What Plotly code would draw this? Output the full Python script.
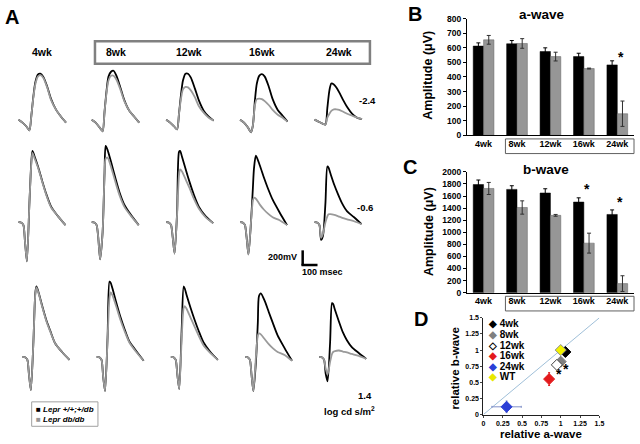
import plotly.graph_objects as go

W, H = 640, 444
FONT = "Arial, Liberation Sans, sans-serif"

# ---------------- Panel A: ERG waveforms (time in ms, amplitude in uV) ----------------
ages = ['4wk', '8wk', '12wk', '16wk', '24wk']
flash_labels = ['-2.4', '-0.6', '1.4']

t_dim = [0, 25, 50, 69, 81, 94, 106, 122, 138, 156, 181, 206, 238, 269, 300]
t_bright = [0, 19, 31, 41, 53, 69, 81, 88, 100, 125, 150, 175, 206, 250, 297]

# -2.4 log cd s/m2
wt_dim_4wk = [0, -40, -93, -147, 53, 320, 507, 613, 627, 587, 453, 280, 133, 40, -40]
db_dim_4wk = [0, -40, -93, -147, 53, 307, 480, 587, 607, 573, 440, 267, 133, 40, -40]
wt_dim_8wk = [0, -40, -107, -160, 107, 400, 587, 653, 667, 600, 440, 267, 120, 40, -40]
db_dim_8wk = [0, -40, -107, -160, 107, 373, 533, 600, 600, 547, 413, 253, 120, 40, -40]
wt_dim_12wk = [0, -40, -93, -133, 80, 347, 533, 627, 627, 573, 427, 267, 120, 40, -13]
db_dim_12wk = [0, -40, -93, -133, 80, 293, 413, 447, 440, 400, 307, 187, 93, 27, -13]
wt_dim_16wk = [0, -40, -107, -173, -80, 267, 493, 600, 620, 587, 453, 280, 133, 53, -27]
db_dim_16wk = [0, -40, -107, -173, -80, 200, 280, 287, 280, 253, 200, 133, 67, 27, -27]
wt_dim_24wk = [0, -27, -53, -67, 160, 400, 493, 480, 440, 373, 267, 173, 80, 27, 7]
db_dim_24wk = [0, -27, -53, -67, 27, 80, 120, 140, 141, 133, 107, 80, 53, 27, 7]

# -0.6 log cd s/m2
wt_mid_4wk = [0, -7, -40, -267, -533, 267, 827, 973, 907, 747, 560, 387, 213, 80, -40]
db_mid_4wk = [0, -7, -40, -267, -533, 267, 800, 947, 880, 733, 547, 373, 200, 80, -40]
wt_mid_8wk = [0, -7, -40, -200, -507, -133, 667, 1040, 987, 800, 600, 413, 240, 93, -40]
db_mid_8wk = [0, -7, -40, -200, -507, -133, 640, 867, 880, 733, 547, 373, 213, 80, -40]
wt_mid_12wk = [0, -7, -40, -200, -427, 133, 960, 973, 893, 707, 533, 373, 213, 80, -13]
db_mid_12wk = [0, -7, -40, -200, -427, 107, 640, 720, 693, 573, 453, 320, 187, 67, -13]
wt_mid_16wk = [0, -7, -40, -200, -440, 0, 467, 733, 907, 773, 613, 467, 307, 133, -40]
db_mid_16wk = [0, -7, -40, -200, -440, 0, 293, 333, 320, 240, 173, 120, 67, 27, -40]
wt_mid_24wk = [0, -7, -40, -240, -187, 267, 760, 747, 667, 507, 373, 253, 147, 67, -27]
db_mid_24wk = [0, -7, -40, -213, -160, 0, 80, 107, 110, 100, 80, 60, 40, 13, -27]

# 1.4 log cd s/m2
wt_hi_4wk = [0, -7, -40, -240, -453, 200, 867, 960, 893, 693, 507, 360, 187, 67, -40]
db_hi_4wk = [0, -7, -40, -240, -453, 200, 853, 947, 880, 680, 493, 347, 187, 67, -40]
wt_hi_8wk = [0, -7, -40, -267, -467, 267, 1027, 1013, 933, 733, 547, 387, 213, 80, -53]
db_hi_8wk = [0, -7, -40, -267, -467, 240, 800, 880, 840, 680, 507, 360, 200, 67, -53]
wt_hi_12wk = [0, -7, -40, -240, -440, 400, 960, 933, 840, 667, 507, 360, 200, 67, -40]
db_hi_12wk = [0, -7, -40, -240, -440, 267, 667, 693, 653, 533, 413, 293, 160, 53, -40]
wt_hi_16wk = [0, -7, -40, -240, -467, -67, 467, 827, 867, 760, 613, 467, 293, 120, -53]
db_hi_16wk = [0, -7, -40, -240, -467, 0, 293, 320, 307, 240, 173, 120, 67, 27, -53]
wt_hi_24wk = [0, -7, -40, -227, -333, 200, 733, 720, 640, 480, 333, 227, 133, 53, -27]
db_hi_24wk = [0, -7, -40, -160, -240, -67, 40, 67, 80, 87, 73, 60, 40, 13, -27]

# ---------------- Panels B, C: bar data ----------------
bar_ages = ['4wk', '8wk', '12wk', '16wk', '24wk']
a_ctrl = [612, 628, 575, 540, 483]
a_ctrl_err = [22, 22, 25, 23, 28]
a_dbdb = [655, 630, 540, 458, 148]
a_dbdb_err = [30, 33, 30, 3, 87]
b_ctrl = [1790, 1710, 1650, 1500, 1295]
b_ctrl_err = [75, 60, 70, 70, 75]
b_dbdb = [1725, 1410, 1280, 820, 150]
b_dbdb_err = [100, 110, 15, 165, 130]

# ---------------- Panel D: relative a/b-wave ----------------
d_labels = ['4wk', '8wk', '12wk', '16wk', '24wk', 'WT']
rel_a = [1.06, 1.0, 0.95, 0.85, 0.30, 1.0]
rel_b = [0.97, 0.82, 0.77, 0.55, 0.12, 1.0]
rel_a_err = [0.03, 0.03, 0.03, 0.02, 0.19, 0]
rel_b_err = [0.03, 0.04, 0.03, 0.10, 0.09, 0]
d_colors = ['#000000', '#808080', '#ffffff', '#e31a1c', '#2b3fd6', '#f2f200']
d_lines = ['#000000', '#808080', '#404040', '#e31a1c', '#2b3fd6', '#909090']
d_err_colors = ['#000000', '#808080', '#606060', '#e31a1c', '#7f8fc8', '#909090']


def fx(x):
    return x / W


def fy(y):
    return 1 - y / H


fig = go.Figure()
layout = dict(width=W, height=H, margin=dict(l=0, r=0, t=0, b=0), autosize=False,
              paper_bgcolor='white', plot_bgcolor='rgba(0,0,0,0)', showlegend=False,
              font=dict(family=FONT, color='black'))

rows = [
    (t_dim, [wt_dim_4wk, wt_dim_8wk, wt_dim_12wk, wt_dim_16wk, wt_dim_24wk],
     [db_dim_4wk, db_dim_8wk, db_dim_12wk, db_dim_16wk, db_dim_24wk]),
    (t_bright, [wt_mid_4wk, wt_mid_8wk, wt_mid_12wk, wt_mid_16wk, wt_mid_24wk],
     [db_mid_4wk, db_mid_8wk, db_mid_12wk, db_mid_16wk, db_mid_24wk]),
    (t_bright, [wt_hi_4wk, wt_hi_8wk, wt_hi_12wk, wt_hi_16wk, wt_hi_24wk],
     [db_hi_4wk, db_hi_8wk, db_hi_12wk, db_hi_16wk, db_hi_24wk]),
]
cell_x0 = [[16.7, 90.7, 166, 240.7, 316], [16.7, 90.7, 166, 240.7, 316],
           [20.7, 95.7, 170.7, 245.7, 320.7]]
row_base = [117.3, 222.2, 360]

n = 0
for r, (tt, wts, dbs) in enumerate(rows):
    for c in range(5):
        n += 1
        xa = 'x' if n == 1 else f'x{n}'
        ya = 'y' if n == 1 else f'y{n}'
        x0 = cell_x0[r][c]
        b = row_base[r]
        layout['xaxis' if n == 1 else f'xaxis{n}'] = dict(
            domain=[fx(x0 - 16), fx(x0 + 64)], range=[-100, 400], visible=False,
            anchor=ya, fixedrange=True)
        layout['yaxis' if n == 1 else f'yaxis{n}'] = dict(
            domain=[fy(b + 45), fy(b - 90)], range=[-600, 1200], visible=False,
            anchor=xa, fixedrange=True)
        fig.add_trace(go.Scatter(x=tt, y=wts[c], mode='lines', xaxis=xa, yaxis=ya,
                                 line=dict(color='#000000', width=1.8, shape='spline', smoothing=0.7)))
        fig.add_trace(go.Scatter(x=tt, y=dbs[c], mode='lines', xaxis=xa, yaxis=ya,
                                 line=dict(color='#9a9a9a', width=1.8, shape='spline', smoothing=0.7)))

# ---------------- Panel B and C bars ----------------
def bar_axes(idx, ytop, ybot, yrange, dtick):
    layout[f'xaxis{idx}'] = dict(domain=[fx(470), fx(639)], anchor=f'y{idx}', type='category',
                                 showline=True, linecolor='black', linewidth=1, ticks='',
                                 tickfont=dict(size=9, family=FONT, weight='bold'), fixedrange=True,
                                 showgrid=False)
    layout[f'yaxis{idx}'] = dict(domain=[fy(ybot), fy(ytop)], anchor=f'x{idx}', range=yrange,
                                 dtick=dtick, showline=True, linecolor='black', linewidth=1,
                                 ticks='outside', ticklen=3, tickcolor='black', showgrid=False,
                                 zeroline=False, fixedrange=True,
                                 tickfont=dict(size=8.5, family=FONT, weight='bold'))


bar_axes(16, 14, 133.3, [0, 800], 100)
bar_axes(17, 170.7, 294.3, [0, 2000], 200)

for idx, (ctrl, ce, db, de) in [(16, (a_ctrl, a_ctrl_err, a_dbdb, a_dbdb_err)),
                                (17, (b_ctrl, b_ctrl_err, b_dbdb, b_dbdb_err))]:
    fig.add_trace(go.Bar(x=bar_ages, y=ctrl, xaxis=f'x{idx}', yaxis=f'y{idx}',
                         marker=dict(color='#000000', line=dict(color='#000000', width=0.5)),
                         error_y=dict(type='data', array=ce, color='#000000', thickness=1, width=2)))
    fig.add_trace(go.Bar(x=bar_ages, y=db, xaxis=f'x{idx}', yaxis=f'y{idx}',
                         marker=dict(color='#969696', line=dict(color='#606060', width=0.5)),
                         error_y=dict(type='data', array=de, color='#303030', thickness=1, width=2)))
layout['barmode'] = 'group'
layout['bargap'] = 0.38
layout['bargroupgap'] = 0

# ---------------- Panel D scatter ----------------
layout['xaxis18'] = dict(domain=[fx(486.7), fx(604)], anchor='y18', range=[0, 1.5],
                         tickvals=[0, 0.25, 0.5, 0.75, 1, 1.25, 1.5],
                         ticktext=['0', '0.25', '0.5', '0.75', '1', '1.25', '1.5'],
                         showline=True, linecolor='#202020', linewidth=1, ticks='outside', ticklen=2,
                         showgrid=False, zeroline=False, fixedrange=True,
                         tickfont=dict(size=7, family=FONT, weight='bold'))
layout['yaxis18'] = dict(domain=[fy(419), fy(320)], anchor='x18', range=[0, 1.5],
                         tickvals=[0, 0.25, 0.5, 0.75, 1, 1.25, 1.5],
                         ticktext=['0', '0.25', '0.5', '0.75', '1', '1.25', '1.5'],
                         showline=True, linecolor='#202020', linewidth=1, ticks='outside', ticklen=2,
                         showgrid=False, zeroline=False, fixedrange=True,
                         tickfont=dict(size=7, family=FONT, weight='bold'))
fig.add_trace(go.Scatter(x=[0, 1.5], y=[0, 1.5], mode='lines', xaxis='x18', yaxis='y18',
                         line=dict(color='#9fbfd8', width=1)))
for i in range(6):
    fig.add_trace(go.Scatter(
        x=[rel_a[i]], y=[rel_b[i]], mode='markers', xaxis='x18', yaxis='y18',
        marker=dict(symbol='diamond', size=8.5, color=d_colors[i], line=dict(color=d_lines[i], width=1)),
        error_x=dict(type='data', array=[rel_a_err[i]], color=d_err_colors[i], thickness=1, width=1),
        error_y=dict(type='data', array=[rel_b_err[i]], color=d_err_colors[i], thickness=1, width=1)))

# ---------------- Annotations & shapes ----------------
anns = []


def ann(text, x, y, size, bold=True, xanchor='center', yanchor='middle', angle=0, italic=False):
    t = text
    if italic:
        t = f'<i>{t}</i>'
    anns.append(dict(text=t, x=fx(x), y=fy(y), xref='paper', yref='paper', showarrow=False,
                     xanchor=xanchor, yanchor=yanchor, textangle=angle,
                     font=dict(size=size, family=FONT, color='black', weight='bold' if bold else 'normal')))


# panel letters
ann('A', 10, 12, 20)
ann('B', 418, 9, 20)
ann('C', 413, 166, 20)
ann('D', 424, 321, 20)

# Panel A labels
for lab, x in zip(ages, [40, 115, 189, 263, 341]):
    ann(lab, x, 48, 10.5)
ann(flash_labels[0], 370, 98, 9.5, xanchor='center')
ann(flash_labels[1], 367, 207, 9.5, xanchor='center')
ann(flash_labels[2], 367, 399, 9.5, xanchor='center')
ann('log cd s/m<sup>2</sup>', 351, 415, 9.5)
ann('200mV', 300, 258, 9, xanchor='right')
ann('100 msec', 301, 273, 9, xanchor='left')

anns.append(dict(text="<span style='color:#000000'>■</span> <i>Lepr +/+;+/db</i><br>"
                      "<span style='color:#969696'>■</span> <i>Lepr db/db</i>",
                 x=fx(32), y=fy(418.5), xref='paper', yref='paper', showarrow=False,
                 xanchor='left', yanchor='middle', align='left',
                 font=dict(size=8, family=FONT, color='black', weight='bold')))

# Panel B / C titles
ann('a-wave', 546, 10, 13.5)
ann('b-wave', 550, 168, 13.5)
ann('Amplitude (μV)', 431, 72, 12.5, angle=-90)
ann('Amplitude (μV)', 431, 232, 12.5, angle=-90)
ann('*', 626, 53, 14)
ann('*', 591, 188, 14)
ann('*', 625, 202, 14)

# Panel D
ann('relative a-wave', 545, 438.5, 11.5)
ann('relative b-wave', 458, 372, 11.5, angle=-90)
ann('*', 570, 372, 14)
ann('*', 563, 378, 14)
leg_y = [326, 337, 348, 359, 370, 380.5]
leg_sym = ['◆', '◆', '◇', '◆', '◆', '◆']
leg_col = ['#000000', '#808080', '#000000', '#e31a1c', '#2b3fd6', '#e8e800']
for lab, yy, sym, col in zip(d_labels, leg_y, leg_sym, leg_col):
    anns.append(dict(text=f"<span style='color:{col}'>{sym}</span> {lab}", x=fx(489), y=fy(yy),
                     xref='paper', yref='paper', showarrow=False, xanchor='left', yanchor='middle',
                     font=dict(size=10, family=FONT, color='black', weight='bold')))

layout['annotations'] = anns

shapes = [
    # age box panel A
    dict(type='rect', xref='paper', yref='paper', x0=fx(94), x1=fx(372), y0=fy(60), y1=fy(37),
         line=dict(color='#808080', width=2.5)),
    # box around 8wk-24wk labels (B and C)
    dict(type='rect', xref='paper', yref='paper', x0=fx(509), x1=fx(639), y0=fy(152), y1=fy(137),
         line=dict(color='#606060', width=1)),
    dict(type='rect', xref='paper', yref='paper', x0=fx(509), x1=fx(639), y0=fy(313), y1=fy(298),
         line=dict(color='#606060', width=1)),
    # legend box panel A
    dict(type='rect', xref='paper', yref='paper', x0=fx(30), x1=fx(97), y0=fy(431), y1=fy(406),
         line=dict(color='#a0a0a0', width=1)),
    # scale bar
    dict(type='line', xref='paper', yref='paper', x0=fx(304), x1=fx(304), y0=fy(251), y1=fy(266.5),
         line=dict(color='black', width=2.5)),
    dict(type='line', xref='paper', yref='paper', x0=fx(302.8), x1=fx(319), y0=fy(266), y1=fy(266),
         line=dict(color='black', width=2.5)),
]
layout['shapes'] = shapes

fig.update_layout(**layout)
fig.write_html("out.html", config={'displayModeBar': False},
               post_script="document.body.style.margin='0';document.body.style.overflow='hidden';")
